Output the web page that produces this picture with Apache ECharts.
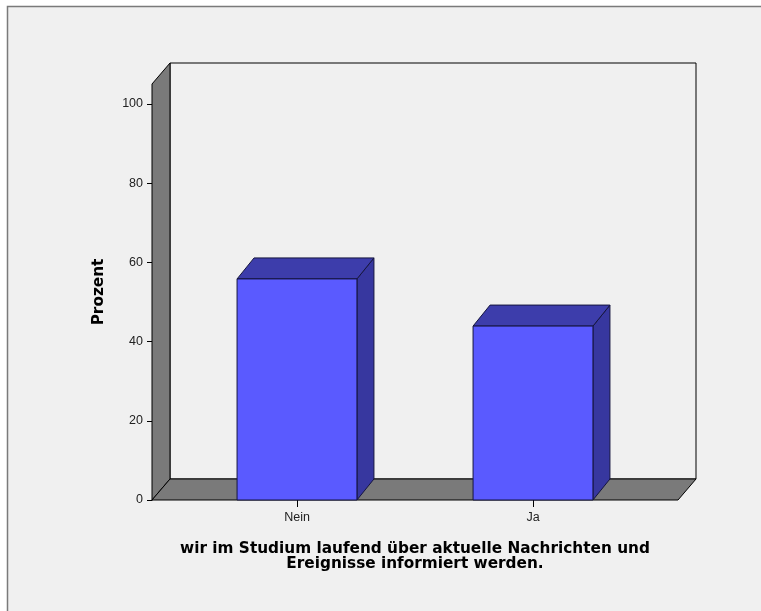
<!DOCTYPE html>
<html>
<head>
<meta charset="utf-8">
<script src="https://cdn.jsdelivr.net/npm/echarts@6/dist/echarts.min.js"></script>
<style>
  html, body { margin: 0; padding: 0; background: #ffffff; }
  #chart { width: 761px; height: 611px; }
</style>
</head>
<body>
<div id="chart"></div>
<script>
// data
var categories = ['Nein', 'Ja']
var percentValues = [55.8, 43.9]
var yTicks = [0, 20, 40, 60, 80, 100]
var yMax = 105
var xTitle = 'wir im Studium laufend über aktuelle Nachrichten und\nEreignisse informiert werden.'
var yTitle = 'Prozent'

var boxDepth = { dx: 18, dy: -21 }
var barDepth = { dx: 17, dy: -21 }

function renderBox (params, api) {
  if (params.dataIndex !== 0) return
  var cs = params.coordSys
  var L = cs.x
  var R = cs.x + cs.width
  var T = cs.y
  var B = cs.y + cs.height
  var dx = boxDepth.dx
  var dy = boxDepth.dy
  var line = { stroke: '#000000', lineWidth: 1 }
  return {
    type: 'group',
    children: [{
      type: 'rect',
      shape: { x: L + dx, y: T + dy, width: cs.width, height: cs.height },
      style: Object.assign({ fill: '#f0f0f0' }, line)
    }, {
      type: 'polygon',
      shape: { points: [[L, B], [L, T], [L + dx, T + dy], [L + dx, B + dy]] },
      style: Object.assign({ fill: '#7a7a7a' }, line)
    }, {
      type: 'polygon',
      shape: { points: [[L, B], [R, B], [R + dx, B + dy], [L + dx, B + dy]] },
      style: Object.assign({ fill: '#7a7a7a' }, line)
    }]
  }
}

function renderBar (params, api) {
  var base = api.coord([api.value(0), 0])
  var top = api.coord([api.value(0), api.value(1)])
  var hw = api.size([1, 0])[0] * 0.254
  var l = base[0] - hw
  var r = base[0] + hw
  var t = top[1]
  var b = base[1]
  var dx = barDepth.dx
  var dy = barDepth.dy
  var line = { stroke: '#15153f', lineWidth: 1 }
  return {
    type: 'group',
    children: [{
      type: 'polygon',
      shape: { points: [[r, b], [r, t], [r + dx, t + dy], [r + dx, b + dy]] },
      style: Object.assign({ fill: '#37379f' }, line)
    }, {
      type: 'polygon',
      shape: { points: [[l, t], [r, t], [r + dx, t + dy], [l + dx, t + dy]] },
      style: Object.assign({ fill: '#3d3dab' }, line)
    }, {
      type: 'rect',
      shape: { x: l, y: t, width: r - l, height: b - t },
      style: Object.assign({ fill: '#5a5aff' }, line)
    }]
  }
}

var chart = echarts.init(document.getElementById('chart'))
var option = {
  backgroundColor: '#ffffff',
  animation: false,
  graphic: [{
    type: 'rect',
    z: -10,
    shape: { x: 7.5, y: 6.5, width: 800, height: 700 },
    style: { fill: '#f0f0f0', stroke: '#7a7a7a', lineWidth: 1.5 }
  }],
  grid: [
    { left: 152, right: 83, top: 84, bottom: 111 },
    { left: 179, right: 110, top: 84, bottom: 111 }
  ],
  xAxis: [{
    gridIndex: 0,
    type: 'category',
    data: categories,
    show: false
  }, {
    gridIndex: 1,
    type: 'category',
    data: categories,
    axisLine: { show: false },
    axisTick: { show: true, alignWithLabel: true, length: 7, lineStyle: { color: '#000' } },
    axisLabel: { margin: 11, fontFamily: 'Liberation Sans', fontSize: 12.5, color: '#222' },
    name: xTitle,
    nameLocation: 'middle',
    nameGap: 42,
    nameTextStyle: {
      fontFamily: 'DejaVu Sans',
      fontWeight: 'bold',
      fontSize: 15.3,
      lineHeight: 15,
      color: '#000'
    }
  }],
  yAxis: [{
    gridIndex: 0,
    type: 'value',
    min: 0,
    max: yMax,
    interval: 20,
    axisLine: { show: true, lineStyle: { color: '#000' } },
    axisTick: { show: true, length: 5, customValues: yTicks, lineStyle: { color: '#000' } },
    axisLabel: {
      customValues: yTicks,
      margin: 9,
      fontFamily: 'Liberation Sans',
      fontSize: 12.5,
      color: '#222'
    },
    splitLine: { show: false },
    name: yTitle,
    nameLocation: 'middle',
    nameGap: 45,
    nameTextStyle: {
      fontFamily: 'DejaVu Sans',
      fontWeight: 'bold',
      fontSize: 15.3,
      color: '#000'
    }
  }, {
    gridIndex: 1,
    type: 'value',
    min: 0,
    max: yMax,
    show: false
  }],
  series: [{
    type: 'custom',
    xAxisIndex: 0,
    yAxisIndex: 0,
    z: 1,
    clip: false,
    silent: true,
    renderItem: renderBox,
    data: [0]
  }, {
    type: 'custom',
    xAxisIndex: 1,
    yAxisIndex: 1,
    z: 2,
    clip: false,
    renderItem: renderBar,
    encode: { x: 0, y: 1 },
    data: percentValues.map(function (v, i) { return [i, v] })
  }]
}
chart.setOption(option)
</script>
</body>
</html>
